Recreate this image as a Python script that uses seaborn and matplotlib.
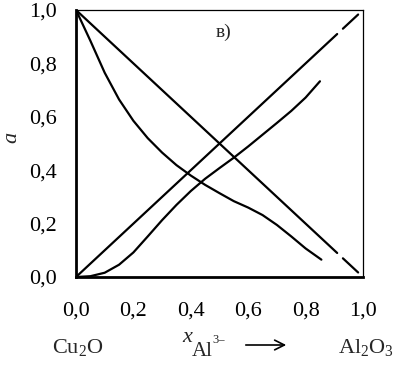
import numpy as np
import pandas as pd
import seaborn as sns
from matplotlib import pyplot as plt
from matplotlib.patches import FancyArrowPatch

# прямые a = 1 - x и a = x (с разрывом у x ~ 0.92)
diag_x = [0.0, 0.91, 0.93, 0.983]
diag_seg = [0, 0, 1, 1]

# убывающая кривая
dec_x = [0, 0.05, 0.1, 0.15, 0.2, 0.25, 0.3, 0.35, 0.4, 0.45, 0.5, 0.55,
         0.6, 0.65, 0.7, 0.75, 0.8, 0.855]
dec_a = [1.0, 0.885, 0.765, 0.665, 0.585, 0.52, 0.466, 0.419, 0.38, 0.345,
         0.314, 0.284, 0.26, 0.232, 0.195, 0.152, 0.107, 0.065]

# возрастающая S-кривая
inc_x = [0, 0.05, 0.1, 0.15, 0.2, 0.25, 0.3, 0.35, 0.4, 0.45, 0.5, 0.55,
         0.6, 0.65, 0.7, 0.75, 0.8, 0.85]
inc_a = [0, 0.003, 0.016, 0.046, 0.092, 0.152, 0.213, 0.27, 0.322, 0.368,
         0.408, 0.447, 0.489, 0.533, 0.577, 0.622, 0.672, 0.733]

x_ticks = [0.0, 0.2, 0.4, 0.6, 0.8, 1.0]
tick_labels = ['0,0', '0,2', '0,4', '0,6', '0,8', '1,0']

if __name__ == '__main__':
    sns.set_style('white')
    plt.rcParams['font.family'] = ['Liberation Serif', 'DejaVu Serif']
    plt.rcParams['mathtext.fontset'] = 'custom'
    plt.rcParams['mathtext.rm'] = 'Liberation Serif'
    plt.rcParams['mathtext.it'] = 'Liberation Serif:italic'

    rows = []
    for x, s in zip(diag_x, diag_seg):
        rows.append({'x': x, 'a': 1 - x, 'u': 'down%d' % s})
        rows.append({'x': x, 'a': x, 'u': 'up%d' % s})
    for x, a in zip(dec_x, dec_a):
        rows.append({'x': x, 'a': a, 'u': 'dec'})
    for x, a in zip(inc_x, inc_a):
        rows.append({'x': x, 'a': a, 'u': 'inc'})
    df = pd.DataFrame(rows)

    fig = plt.figure(figsize=(4.0, 3.69), dpi=100)
    ax = fig.add_axes([0.19, 0.2493, 0.7175, 0.7236])
    sns.lineplot(data=df, x='x', y='a', units='u', estimator=None, sort=False,
                 color='black', linewidth=1.6, ax=ax)

    ax.set_xlim(0, 1)
    ax.set_ylim(0, 1)
    ax.set_xticks(x_ticks)
    ax.set_xticklabels(tick_labels)
    ax.set_yticks(x_ticks)
    ax.set_yticklabels(tick_labels)
    ax.tick_params(axis='both', direction='out', length=4, width=1.2,
                   labelsize=16, color='black', labelcolor='black')
    ax.tick_params(axis='x', pad=14)
    ax.tick_params(axis='y', pad=10)
    ax.set_xlabel('')
    ax.set_ylabel('')
    for side in ['left', 'bottom']:
        ax.spines[side].set_linewidth(2.0)
        ax.spines[side].set_color('black')
    for side in ['top', 'right']:
        ax.spines[side].set_linewidth(0.9)
        ax.spines[side].set_color('black')

    fig.text(12 / 400, 1 - 137 / 369, 'a', fontsize=16, style='italic',
             rotation=90, ha='center', va='center')
    fig.text(224 / 400, 1 - 32 / 369, 'в)', fontsize=14,
             ha='center', va='center')

    # подписи под осью
    fig.text(52 / 400, 1 - 353 / 369, r'Cu$_2$O', fontsize=16,
             ha='left', va='baseline')
    fig.text(338 / 400, 1 - 353 / 369, r'Al$_2$O$_3$', fontsize=16,
             ha='left', va='baseline')
    fig.text(182 / 400, 1 - 342 / 369, 'x', fontsize=16, style='italic',
             ha='left', va='baseline')
    fig.text(192 / 400, 1 - 356 / 369, 'Al', fontsize=15,
             ha='left', va='baseline')
    fig.text(212 / 400, 1 - 343 / 369, '3–', fontsize=9,
             ha='left', va='baseline')
    fig.patches.append(FancyArrowPatch(
        (243 / 400, 1 - 345 / 369), (289 / 400, 1 - 345 / 369),
        transform=fig.transFigure, arrowstyle='->,head_length=7,head_width=3.5',
        color='black', linewidth=1.2))

    plt.savefig('out.png', dpi=100)
